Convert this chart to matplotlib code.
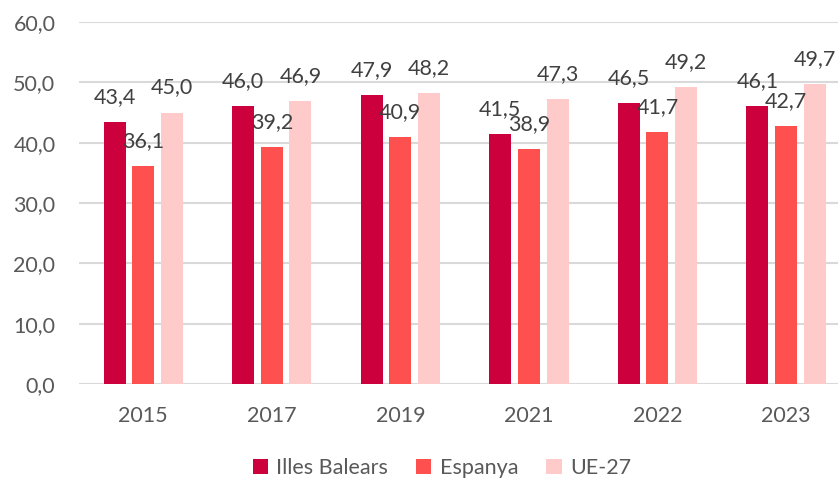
import numpy as np
import matplotlib
matplotlib.use("Agg")
import matplotlib.pyplot as plt

# data
years = ["2015", "2017", "2019", "2021", "2022", "2023"]
illes_balears = [43.4, 46.0, 47.9, 41.5, 46.5, 46.1]
espanya = [36.1, 39.2, 40.9, 38.9, 41.7, 42.7]
ue27 = [45.0, 46.9, 48.2, 47.3, 49.2, 49.7]
series_names = ["Illes Balears", "Espanya", "UE-27"]
colors = ["#CC003D", "#FF5050", "#FFCACA"]

plt.rcParams['font.family'] = ['Lato', 'DejaVu Sans']

fig = plt.figure(figsize=(8.38, 4.78), dpi=100)
ax = fig.add_axes([79 / 838, 1 - 384 / 478, (838 - 79) / 838, (384 - 22) / 478])

x = np.arange(len(years))
width = 0.171
step = 0.223
for i, (name, vals) in enumerate(zip(series_names, [illes_balears, espanya, ue27])):
    pos = x + (i - 1) * step
    ax.bar(pos, vals, width=width, color=colors[i], label=name, zorder=2)
    for xp, v in zip(pos, vals):
        ax.annotate(f"{v:.1f}".replace(".", ","), (xp, v), xytext=(0, 25),
                    textcoords="offset pixels", ha="center", va="center",
                    fontsize=15.5, color="#404040", zorder=3)

ax.set_ylim(0, 60)
ax.set_xlim(-0.5, 5 + 52 / 128.5)
ax.set_yticks(np.arange(0, 61, 10))
ax.set_yticklabels([f"{t:.1f}".replace(".", ",") for t in np.arange(0, 61, 10)])
ax.set_xticks(x)
ax.set_xticklabels(years)
ax.tick_params(axis="both", length=0, labelsize=15.5, labelcolor="#595959")
ax.tick_params(axis="y", pad=17)
ax.tick_params(axis="x", pad=16)
ax.grid(axis="y", color="#D9D9D9", linewidth=1.5, zorder=0)
for s in ax.spines.values():
    s.set_visible(False)

fig.legend(loc="center", bbox_to_anchor=(442 / 838, 1 - 468 / 478), ncol=3,
           frameon=False, fontsize=15.5, labelcolor="#595959",
           handlelength=0.7, handleheight=0.7, handletextpad=0.4, columnspacing=1.3)

fig.savefig("out.png", dpi=100)
